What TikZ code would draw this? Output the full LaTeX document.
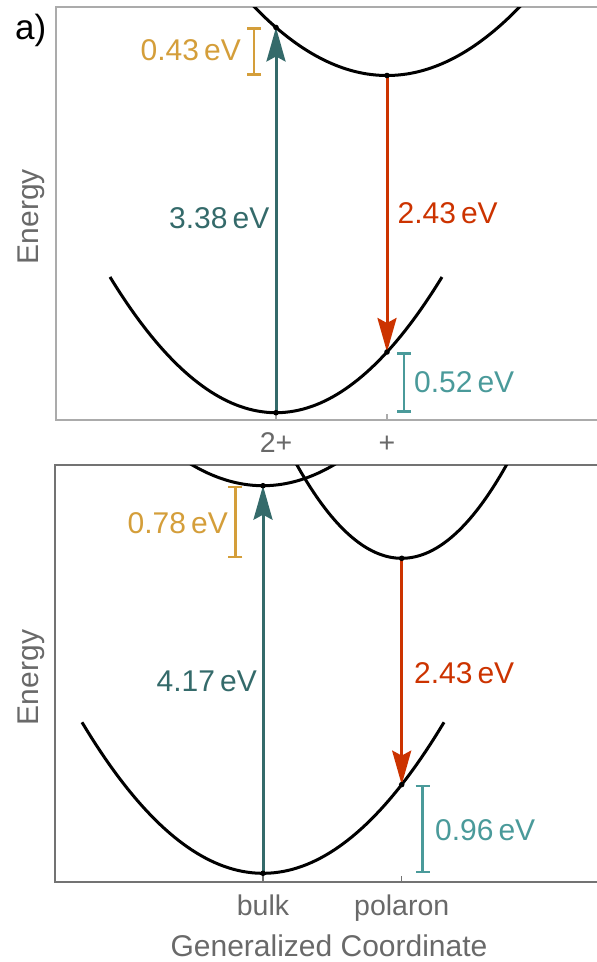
\documentclass[tikz,border=0pt]{standalone}
\usepackage{fontspec}
\setmainfont{Liberation Sans}
\usetikzlibrary{arrows.meta}

\begin{document}
\begin{tikzpicture}[x=1pt, y=-1pt]
    % 定义颜色
    \definecolor{bulkteal}{RGB}{52, 106, 106}
    \definecolor{polred}{RGB}{204, 51, 0}
    \definecolor{gapgold}{RGB}{212, 158, 58}
    \definecolor{gapteal}{RGB}{74, 154, 154}
    \definecolor{axisgray}{RGB}{105, 105, 105}
    % 自定义命令：能量数值加单位
    \newcommand{\EVal}[1]{#1\,eV}

    % --- 设置全局样式 ---
    \tikzset{
        Curve/.style = {
            line width=3pt,         % 线条粗细
            black                   % 线条颜色
        },
        Transition/.style = {
            -{Stealth[length=34pt, width=19pt, inset=5pt]}, % 箭头
            line width=3pt          % 线条粗细
        },
        GapBar/.style = {
            {Bar[width=14pt]}-{Bar[width=14pt]}, % 两端短横
            line width=2.5pt        % 线条粗细
        },
        Frame/.style = {
            line width=1.3pt        % 坐标框粗细
        },
        ValLabel/.style = {
            inner sep=0pt,
            font=\fontsize{30}{34}\selectfont
        },
        TickLabel/.style = {
            inner sep=0pt,
            anchor=base,
            text=axisgray,
            font=\fontsize{28.5}{34}\selectfont
        },
        AxisLabel/.style = {
            inner sep=0pt,
            anchor=base,
            text=axisgray,
            font=\fontsize{30}{34}\selectfont
        }
    }

    \useasboundingbox (0,0) rectangle (597,962);

    % --- 上图 ---
    \draw[Frame, black!33] (597,7) -| (56,420) -- (597,420);
    \draw[Frame, black!33] (276,420) -- (276,414);
    \draw[Frame, black!33] (387,420) -- (387,414);

    \begin{scope}
        \clip (56,7) rectangle (597,420);
        \draw[Curve] plot[variable=\t, domain=-1.66:1.66, samples=80]
            ({276+100*\t}, {412.7-49.25*\t*\t});
        \draw[Curve] plot[variable=\t, domain=-1.4:1.4, samples=80]
            ({387+100*\t}, {75.5-39*\t*\t});
    \end{scope}

    \coordinate (tgmin) at (276,412.7);
    \coordinate (texbulk) at (276,27.45);
    \coordinate (texmin) at (387,75.5);
    \coordinate (tgpol) at (387,352.0);
    \coordinate (tgoldA) at (254,27.45);
    \coordinate (tgoldB) at (254,75.5);
    \coordinate (ttealA) at (404,352.0);
    \coordinate (ttealB) at (404,412.7);

    \draw[Transition, bulkteal] (tgmin) -- (texbulk);
    \draw[Transition, polred] (texmin) -- (tgpol);
    \draw[GapBar, gapgold] (tgoldA) -- (tgoldB);
    \draw[GapBar, gapteal] (ttealA) -- (ttealB);
    \foreach \p in {tgmin, texbulk, texmin, tgpol}
        \fill[black] (\p) circle[radius=2.8];

    \node[ValLabel, anchor=east, text=gapgold] (tgoldlbl) at (241,50.5) {\EVal{0.43}};
    \node[ValLabel, anchor=east, text=bulkteal] (tbulklbl) at (269.5,218) {\EVal{3.38}};
    \node[ValLabel, anchor=west, text=polred] (tpollbl) at (397.5,213.3) {\EVal{2.43}};
    \node[ValLabel, anchor=west, text=gapteal] (ttealbl) at (414,381.7) {\EVal{0.52}};

    \node[TickLabel] (tick2p) at (276,452) {2+};
    \node[TickLabel] (tick1p) at (387,452) {+};
    \node[AxisLabel, rotate=90] (tenergy) at (38.3,216.7) {Energy};
    \node[inner sep=0pt, anchor=base west, font=\fontsize{35}{40}\selectfont] (panela) at (15,39) {a)};

    % --- 下图 ---
    \draw[Frame, black!55] (597,465) -| (55,882) -- (597,882);
    \draw[Frame, black!55] (263,882) -- (263,876);
    \draw[Frame, black!55] (401.7,882) -- (401.7,876);

    \begin{scope}
        \clip (55,465) rectangle (597,882);
        \draw[Curve] plot[variable=\t, domain=-1.81:1.81, samples=80]
            ({263+100*\t}, {873.3-46.1*\t*\t});
        \draw[Curve] plot[variable=\t, domain=-0.8:0.8, samples=60]
            ({263+100*\t}, {485.7-41.4*\t*\t});
        \draw[Curve] plot[variable=\t, domain=-1.1:1.1, samples=80]
            ({401.7+100*\t}, {558.3-85*\t*\t});
    \end{scope}

    \coordinate (bgmin) at (263,873.3);
    \coordinate (bexbulk) at (263,485.7);
    \coordinate (bexmin) at (401.7,558.3);
    \coordinate (bgpol) at (401.7,784.6);
    \coordinate (bgoldA) at (235.3,485.7);
    \coordinate (bgoldB) at (235.3,558.3);
    \coordinate (btealA) at (422.7,784.6);
    \coordinate (btealB) at (422.7,873.3);

    \draw[Transition, bulkteal] (bgmin) -- (bexbulk);
    \draw[Transition, polred] (bexmin) -- (bgpol);
    \draw[GapBar, gapgold] (bgoldA) -- (bgoldB);
    \draw[GapBar, gapteal] (btealA) -- (btealB);
    \foreach \p in {bgmin, bexbulk, bexmin, bgpol}
        \fill[black] (\p) circle[radius=2.8];

    \node[ValLabel, anchor=east, text=gapgold] (bgoldlbl) at (228,523.3) {\EVal{0.78}};
    \node[ValLabel, anchor=east, text=bulkteal] (bbulklbl) at (257,681) {\EVal{4.17}};
    \node[ValLabel, anchor=west, text=polred] (bpollbl) at (414,672.7) {\EVal{2.43}};
    \node[ValLabel, anchor=west, text=gapteal] (btealbl) at (435,830) {\EVal{0.96}};

    \node[TickLabel] (tickbulk) at (263,915) {bulk};
    \node[TickLabel] (tickpol) at (401.7,915) {polaron};
    \node[AxisLabel, rotate=90] (benergy) at (38.3,677.5) {Energy};
    \node[AxisLabel] (coordlbl) at (329,956.7) {Generalized Coordinate};

\end{tikzpicture}
\end{document}
